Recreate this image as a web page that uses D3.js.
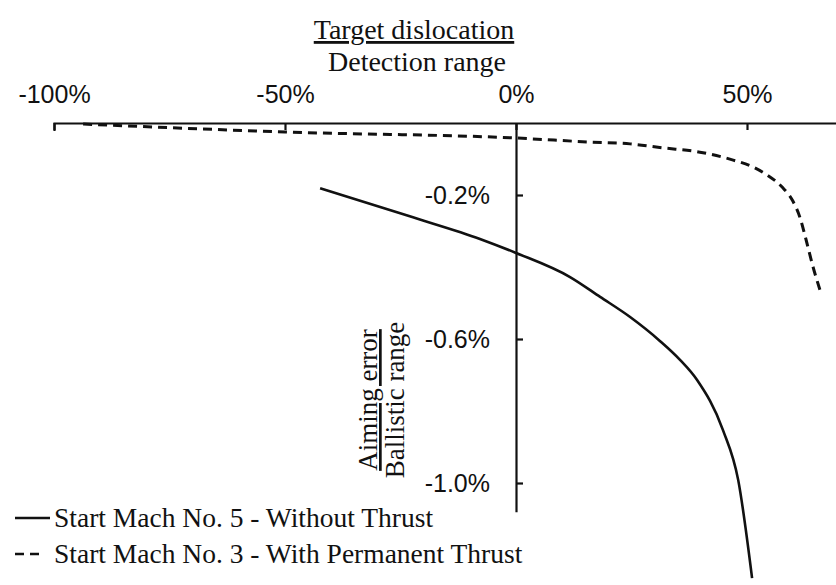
<!DOCTYPE html>
<html>
<head>
<meta charset="utf-8">
<script src="https://cdn.jsdelivr.net/npm/d3@7"></script>
<style>
  body { margin: 0; background: #fff; }
  svg { display: block; }
</style>
</head>
<body>
<svg width="836" height="585"></svg>
<script>
// Data (x: detection range %, y: ballistic range %)
const noThrustX = [-42.4, -22.3, -7.8, 0, 11.7, 18.2, 24.7, 31.2, 35.5, 39.2, 44.8, 48.1, 51.1];
const noThrustY = [-0.181, -0.262, -0.322, -0.361, -0.428, -0.483, -0.539, -0.606, -0.658, -0.714, -0.853, -0.992, -1.264];
const thrustX = [-93.7, -75, -50, 0.4, 16.0, 24.7, 31.8, 39.8, 47.0, 51.3, 54.3, 57.6, 59.8, 61.5, 62.8, 64.3, 65.8];
const thrustY = [-0.003, -0.013, -0.025, -0.042, -0.053, -0.058, -0.069, -0.081, -0.103, -0.122, -0.144, -0.178, -0.214, -0.264, -0.325, -0.400, -0.464];
const xTicks = [-100, -50, 0, 50];
const yTicks = [-0.2, -0.6, -1.0];
const seriesNames = ['Start Mach No. 5 - Without Thrust', 'Start Mach No. 3 - With Permanent Thrust'];

const svg = d3.select('svg');
const serif = '"Liberation Serif", "Times New Roman", serif';
const sans = '"Liberation Sans", Arial, sans-serif';

const x = d3.scaleLinear().domain([-100, 70]).range([54, 839.4]);
const y = d3.scaleLinear().domain([0, -1.08]).range([123, 511.8]);

// Titles
svg.append('text')
    .attr('x', 414).attr('y', 39)
    .attr('text-anchor', 'middle')
    .attr('font-family', serif).attr('font-size', 28)
    .attr('text-decoration', 'underline')
    .attr('fill', '#111')
    .text('Target dislocation');
svg.append('text')
    .attr('x', 417).attr('y', 71)
    .attr('text-anchor', 'middle')
    .attr('font-family', serif).attr('font-size', 28)
    .attr('fill', '#111')
    .text('Detection range');

// X axis: line and ticks below, labels above
const xAxis = svg.append('g')
    .attr('transform', `translate(0, ${y(0)})`)
    .call(d3.axisBottom(x).tickValues(xTicks).tickSize(7).tickSizeOuter(8).tickFormat(''));
const xLabels = svg.append('g')
    .attr('transform', `translate(0, ${y(0)})`)
    .call(d3.axisTop(x).tickValues(xTicks).tickSize(0).tickPadding(20).tickFormat(d => d + '%'));
xLabels.select('.domain').remove();
xLabels.selectAll('text')
    .attr('font-family', sans).attr('font-size', 25).attr('fill', '#111');

// Y axis: line and ticks on the right, labels left
const yAxis = svg.append('g')
    .attr('transform', `translate(${x(0)}, 0)`)
    .call(d3.axisRight(y).tickValues(yTicks).tickSize(7).tickSizeOuter(0).tickFormat(''));
const yLabels = svg.append('g')
    .attr('transform', `translate(${x(0)}, 0)`)
    .call(d3.axisLeft(y).tickValues(yTicks).tickSize(0).tickPadding(26).tickFormat(d => d.toFixed(1) + '%'));
yLabels.select('.domain').remove();
yLabels.selectAll('text')
    .attr('font-family', sans).attr('font-size', 25).attr('fill', '#111');

[xAxis, yAxis].forEach(g => {
    g.selectAll('path, line').attr('stroke', '#111').attr('stroke-width', 2.2);
});

// Rotated y title
const yTitle = svg.append('g')
    .attr('transform', `translate(0, 400) rotate(-90)`);
yTitle.append('text')
    .attr('x', 0).attr('y', 377)
    .attr('text-anchor', 'middle')
    .attr('font-family', serif).attr('font-size', 27)
    .attr('text-decoration', 'underline')
    .attr('fill', '#111')
    .text('Aiming error');
yTitle.append('text')
    .attr('x', 0).attr('y', 404)
    .attr('text-anchor', 'middle')
    .attr('font-family', serif).attr('font-size', 27)
    .attr('fill', '#111')
    .text('Ballistic range');

// Lines
const line = d3.line()
    .x(d => x(d[0]))
    .y(d => y(d[1]))
    .curve(d3.curveMonotoneX);

svg.append('path')
    .datum(d3.zip(noThrustX, noThrustY))
    .attr('d', line)
    .attr('fill', 'none')
    .attr('stroke', '#111')
    .attr('stroke-width', 2.6);

svg.append('path')
    .datum(d3.zip(thrustX, thrustY))
    .attr('d', line)
    .attr('fill', 'none')
    .attr('stroke', '#111')
    .attr('stroke-width', 3)
    .attr('stroke-dasharray', '9,6');

// Legend
const legend = svg.append('g').attr('transform', 'translate(15, 0)');
seriesNames.forEach((name, i) => {
    const ly = 518 + i * 36;
    legend.append('line')
        .attr('x1', 0).attr('x2', i === 0 ? 35 : 30)
        .attr('y1', ly).attr('y2', ly)
        .attr('stroke', '#111')
        .attr('stroke-width', i === 0 ? 2.6 : 2.4)
        .attr('stroke-dasharray', i === 0 ? null : '9,6');
    legend.append('text')
        .attr('x', 39).attr('y', ly + 9)
        .attr('font-family', serif).attr('font-size', 27.5)
        .attr('fill', '#111')
        .text(name);
});
</script>
</body>
</html>
